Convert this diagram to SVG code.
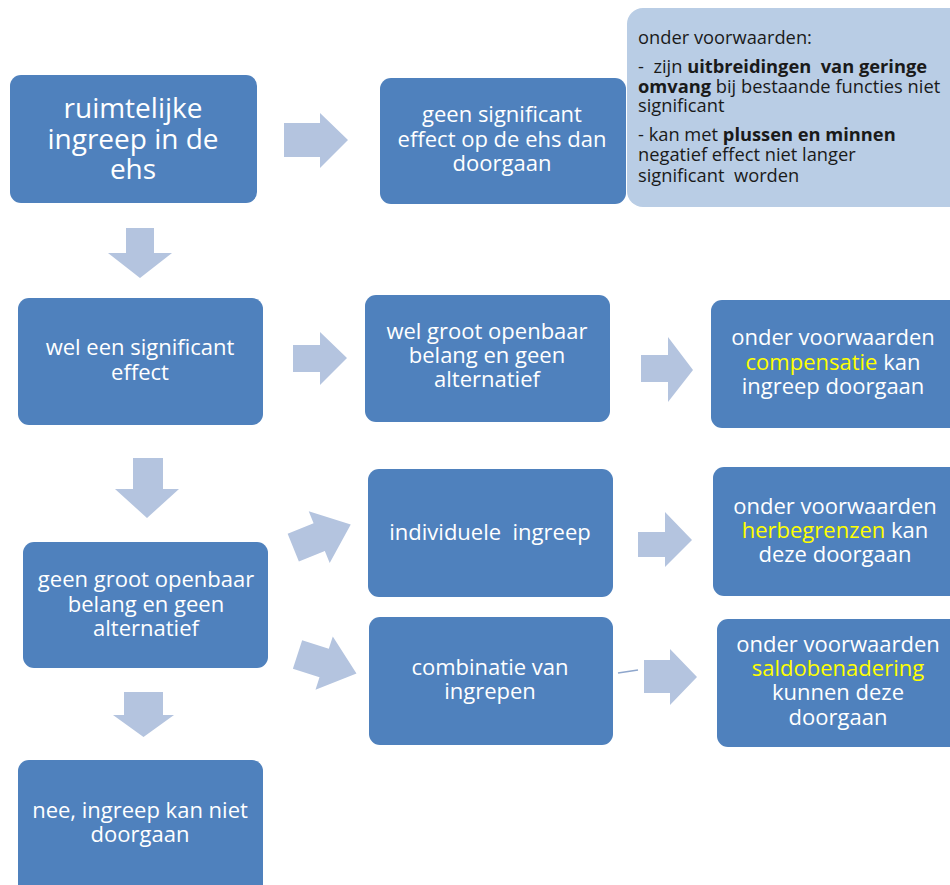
<svg xmlns="http://www.w3.org/2000/svg" width="950" height="885" viewBox="0 0 950 885">
<style>
.node{fill:#4F81BD;}
.arr{fill:#B4C4DF;}
.t{font-family:"Open Sans","Noto Sans",sans-serif;fill:#FFFFFF;text-anchor:middle;font-size:22px;}
.big{font-size:28px;}
.y{fill:#FFFF00;}
.c{font-family:"Open Sans","Noto Sans",sans-serif;fill:#1a1a1a;font-size:18.3px;}
.b{font-weight:bold;}
</style>
<defs>
<polygon id="rarrow" points="-31,-15 -3,-15 -3,-28 31,0 -3,28 -3,15 -31,15"/>
</defs>
<rect width="950" height="885" fill="#FFFFFF"/>
<g id="connectors">
<polygon class="arr" points="284,123 320,123 320,113 348,140 320,168 320,157 284,157"/>
<polygon class="arr" points="126,228 154,228 154,253 172,253 140,278 108,253 126,253"/>
<polygon class="arr" points="293,345 320,345 320,332 347,358 320,385 320,372 293,372"/>
<polygon class="arr" points="641,355 668,355 668,337 693,370 668,402 668,382 641,382"/>
<polygon class="arr" points="133,458 163,458 163,489 179,489 147,518 115,489 133,489"/>
<use href="#rarrow" class="arr" transform="translate(322,536) rotate(-22)"/>
<use href="#rarrow" class="arr" transform="translate(327,664) rotate(18)"/>
<polygon class="arr" points="638,532 665,532 665,512 692,540 665,567 665,557 638,557"/>
<line x1="618" y1="673" x2="638" y2="670" stroke="#8EA6CC" stroke-width="1.5"/>
<polygon class="arr" points="644,660 670,660 670,649 697,677 670,705 670,693 644,693"/>
<polygon class="arr" points="124,692 163,692 163,715 174,715 143.5,737 113,715 124,715"/>
</g>
<g id="n1">
<rect class="node" x="10" y="75" width="247" height="128" rx="11"/>
<text class="t big" x="133" y="118">ruimtelijke</text>
<text class="t big" x="133" y="149">ingreep in de</text>
<text class="t big" x="133" y="179">ehs</text>
</g>
<g id="n2">
<rect class="node" x="380" y="78" width="246" height="126" rx="11"/>
<text class="t" x="502" y="122">geen significant</text>
<text class="t" x="502" y="147">effect op de ehs dan</text>
<text class="t" x="502" y="171">doorgaan</text>
</g>
<g id="callout">
<rect x="627" y="8" width="340" height="199" rx="16" fill="#B9CDE5"/>
<text class="c" x="638" y="44">onder voorwaarden:</text>
<text class="c" x="638" y="73" xml:space="preserve">-  zijn <tspan class="b">uitbreidingen  van geringe</tspan></text>
<text class="c" x="638" y="93"><tspan class="b">omvang</tspan> bij bestaande functies niet</text>
<text class="c" x="638" y="112">significant</text>
<text class="c" x="638" y="141">- kan met <tspan class="b">plussen en minnen</tspan></text>
<text class="c" x="638" y="161">negatief effect niet langer</text>
<text class="c" x="638" y="182" xml:space="preserve">significant  worden</text>
</g>
<g id="n3">
<rect class="node" x="18" y="298" width="245" height="127" rx="11"/>
<text class="t" x="140" y="355">wel een significant</text>
<text class="t" x="140" y="380">effect</text>
</g>
<g id="n4">
<rect class="node" x="365" y="295" width="245" height="127" rx="11"/>
<text class="t" x="487" y="339">wel groot openbaar</text>
<text class="t" x="487" y="363">belang en geen</text>
<text class="t" x="487" y="387">alternatief</text>
</g>
<g id="n5">
<rect class="node" x="711" y="300" width="250" height="128" rx="11"/>
<text class="t" x="833" y="345">onder voorwaarden</text>
<text class="t" x="833" y="370"><tspan class="y">compensatie</tspan> kan</text>
<text class="t" x="833" y="394">ingreep doorgaan</text>
</g>
<g id="n6">
<rect class="node" x="23" y="542" width="245" height="126" rx="11"/>
<text class="t" x="146" y="587">geen groot openbaar</text>
<text class="t" x="146" y="612">belang en geen</text>
<text class="t" x="146" y="636">alternatief</text>
</g>
<g id="n7">
<rect class="node" x="368" y="469" width="245" height="128" rx="11"/>
<text class="t" x="490" y="540" xml:space="preserve">individuele  ingreep</text>
</g>
<g id="n8">
<rect class="node" x="369" y="617" width="244" height="128" rx="11"/>
<text class="t" x="490" y="675">combinatie van</text>
<text class="t" x="490" y="699">ingrepen</text>
</g>
<g id="n9">
<rect class="node" x="713" y="467" width="250" height="129" rx="11"/>
<text class="t" x="835" y="514">onder voorwaarden</text>
<text class="t" x="835" y="538"><tspan class="y">herbegrenzen</tspan> kan</text>
<text class="t" x="835" y="562">deze doorgaan</text>
</g>
<g id="n10">
<rect class="node" x="717" y="619" width="250" height="128" rx="11"/>
<text class="t" x="838" y="652">onder voorwaarden</text>
<text class="t y" x="838" y="676">saldobenadering</text>
<text class="t" x="838" y="700">kunnen deze</text>
<text class="t" x="838" y="725">doorgaan</text>
</g>
<g id="n11">
<rect class="node" x="18" y="760" width="245" height="140" rx="11"/>
<text class="t" x="140" y="818">nee, ingreep kan niet</text>
<text class="t" x="140" y="842">doorgaan</text>
</g>
</svg>
